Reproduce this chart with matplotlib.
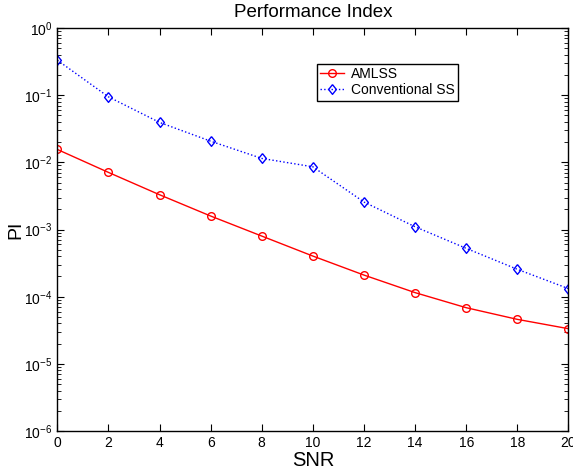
import matplotlib
matplotlib.use("Agg")
import matplotlib.pyplot as plt
from matplotlib.ticker import LogLocator, NullFormatter

plt.rcParams['font.family'] = ['Liberation Sans', 'DejaVu Sans']
plt.rcParams['mathtext.fontset'] = 'custom'
plt.rcParams['mathtext.rm'] = 'Liberation Sans'
plt.rcParams['mathtext.it'] = 'Liberation Sans'

snr = [0, 2, 4, 6, 8, 10, 12, 14, 16, 18, 20]
amlss = [0.0156, 0.0071, 0.0033, 0.00159, 0.0008, 0.000403, 0.00021,
         0.000115, 6.86e-5, 4.6e-5, 3.34e-5]
conv_ss = [0.333, 0.0947, 0.0394, 0.0207, 0.01146, 0.0086, 0.00257,
           0.0011, 0.000525, 0.000256, 0.000132]
xticks = [0, 2, 4, 6, 8, 10, 12, 14, 16, 18, 20]

diamond = [(0, 1), (0.8, 0), (0, -1), (-0.8, 0), (0, 1)]

fig = plt.figure(figsize=(5.73, 4.76), dpi=100)
ax = fig.add_axes([0.100, 0.0945, 0.892, 0.8465])

ax.semilogy(snr, amlss, color='red', linestyle='-', linewidth=1.0,
            marker='o', markersize=5.5, markerfacecolor='none',
            markeredgecolor='red', markeredgewidth=1.0, label='AMLSS')
ax.semilogy(snr, conv_ss, color='blue', linestyle=':', linewidth=1.0,
            marker=diamond, markersize=7, markerfacecolor='none',
            markeredgecolor='blue', markeredgewidth=1.0, label='Conventional SS')

ax.set_xlim(0, 20)
ax.set_ylim(1e-6, 1e0)
ax.set_xticks(xticks)
ax.set_xticklabels([str(v) for v in xticks])
ax.yaxis.set_major_locator(LogLocator(base=10, numticks=10))
ax.yaxis.set_minor_locator(LogLocator(base=10, subs=range(2, 10), numticks=20))
ax.yaxis.set_minor_formatter(NullFormatter())

ax.tick_params(which='both', direction='in', top=True, right=True, labelsize=10)
ax.tick_params(which='major', length=5, width=0.8)
ax.tick_params(which='minor', length=3, width=0.6)
for s in ax.spines.values():
    s.set_linewidth(1.0)

ax.set_xlabel('SNR', fontsize=14.5, labelpad=1)
ax.set_ylabel('PI', fontsize=14, labelpad=0)
ax.set_title('Performance Index', fontsize=13.5, pad=8)

leg = ax.legend(loc='upper left', bbox_to_anchor=(0.5076, 0.912), fontsize=10,
                frameon=True, fancybox=False, edgecolor='black',
                handlelength=1.7, borderpad=0.25, labelspacing=0.15,
                handletextpad=0.5, borderaxespad=0, framealpha=1)
leg.get_frame().set_linewidth(1.0)

fig.savefig('out.png', dpi=100)
